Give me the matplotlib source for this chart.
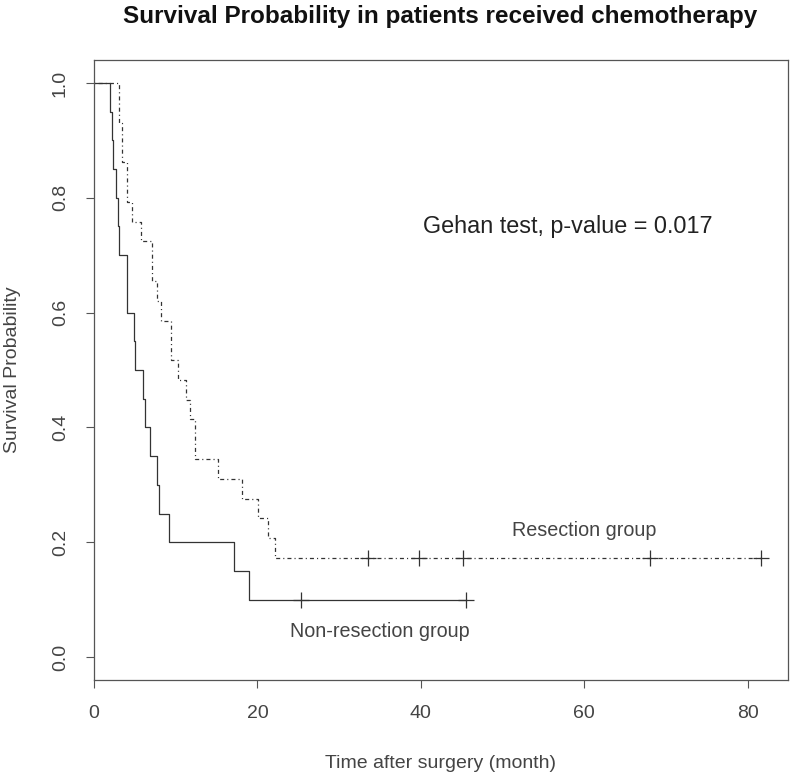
import matplotlib
matplotlib.use("Agg")
import matplotlib.pyplot as plt
import numpy as np

plt.rcParams['font.family'] = ['Liberation Sans', 'DejaVu Sans']
plt.rcParams['lines.scale_dashes'] = False

# Non-resection group (n=20): event times and survival after each event
nonres_times = [0, 2.0, 2.15, 2.3, 2.65, 2.9, 3.1, 4.0, 4.9, 5.05, 6.0, 6.25, 6.85, 7.7, 7.95, 9.15, 17.1, 19.0]
nonres_surv = [1.0, 0.95, 0.90, 0.85, 0.80, 0.75, 0.70, 0.60, 0.55, 0.50, 0.45, 0.40, 0.35, 0.30, 0.25, 0.20, 0.15, 0.10]
nonres_censor = [25.3, 45.5]

# Resection group (n=29)
res_times = [0, 3.0, 3.4, 3.98, 4.6, 5.8, 7.07, 7.68, 8.25, 9.47, 10.3, 11.2, 11.8, 12.3, 15.2, 18.1, 20.1, 21.3, 22.2]
res_surv = [1.0, 27/29, 25/29, 23/29, 22/29, 21/29, 19/29, 18/29, 17/29, 15/29, 14/29, 13/29, 12/29, 10/29, 9/29, 8/29, 7/29, 6/29, 5/29]
res_censor = [33.5, 39.8, 45.1, 68.0, 81.6]

title = "Survival Probability in patients received chemotherapy"
xlabel = "Time after surgery (month)"
ylabel = "Survival Probability"
annot = "Gehan test, p-value = 0.017"

W, H = 791, 779
fig = plt.figure(figsize=(W/100, H/100), dpi=100)
ax = fig.add_axes([94/W, 1-680/H, (787.5-94)/W, (680-60)/H])

line_col = '#333333'
txt_col = '#444444'

def km(ax, times, surv, censor, **kw):
    t_end = max(censor)
    xs = list(times) + [t_end]
    ys = list(surv) + [surv[-1]]
    ax.step(xs, ys, where='post', color=line_col, lw=0.9, **kw)
    cs = [surv[np.searchsorted(times, c, side='right') - 1] for c in censor]
    ax.plot(censor, cs, ls='none', marker='+', ms=11, mew=0.9, color=line_col)

km(ax, nonres_times, nonres_surv, nonres_censor, ls='-')
km(ax, res_times, res_surv, res_censor, ls=(0, (0.8, 2.2, 2.9, 2.2)))

xmax = max(res_censor)
ax.set_xlim(0, xmax * 1.04)
ax.set_ylim(-0.04, 1.04)
ax.set_xticks([0, 20, 40, 60, 80])
ax.set_yticks([0.0, 0.2, 0.4, 0.6, 0.8, 1.0])
ax.set_yticklabels(['0.0', '0.2', '0.4', '0.6', '0.8', '1.0'], rotation=90, va='center')
ax.tick_params(direction='out', length=6, width=0.8, colors='#555555', labelcolor=txt_col, labelsize=14, pad=12)
for s in ax.spines.values():
    s.set_color('#555555')
    s.set_linewidth(0.9)

ax.set_xlabel(xlabel, fontsize=14, color=txt_col, va='center')
ax.xaxis.set_label_coords(0.5, (680-764)/620)
ax.set_ylabel(ylabel, fontsize=14, color=txt_col, va='center')
ax.yaxis.set_label_coords((13-94)/693.5, 0.5)
fig.text(440/W, 1-16/H, title, ha='center', va='center', fontsize=17.5, fontweight='bold', color='#111111')

ax.text(58, 0.75, annot, ha='center', va='center', fontsize=16.8, color='#222222')
ax.text(60, 0.22, "Resection group", ha='center', va='center', fontsize=14.2, color=txt_col)
ax.text(35, 0.045, "Non-resection group", ha='center', va='center', fontsize=14.2, color=txt_col)

fig.savefig('out.png', dpi=100)
